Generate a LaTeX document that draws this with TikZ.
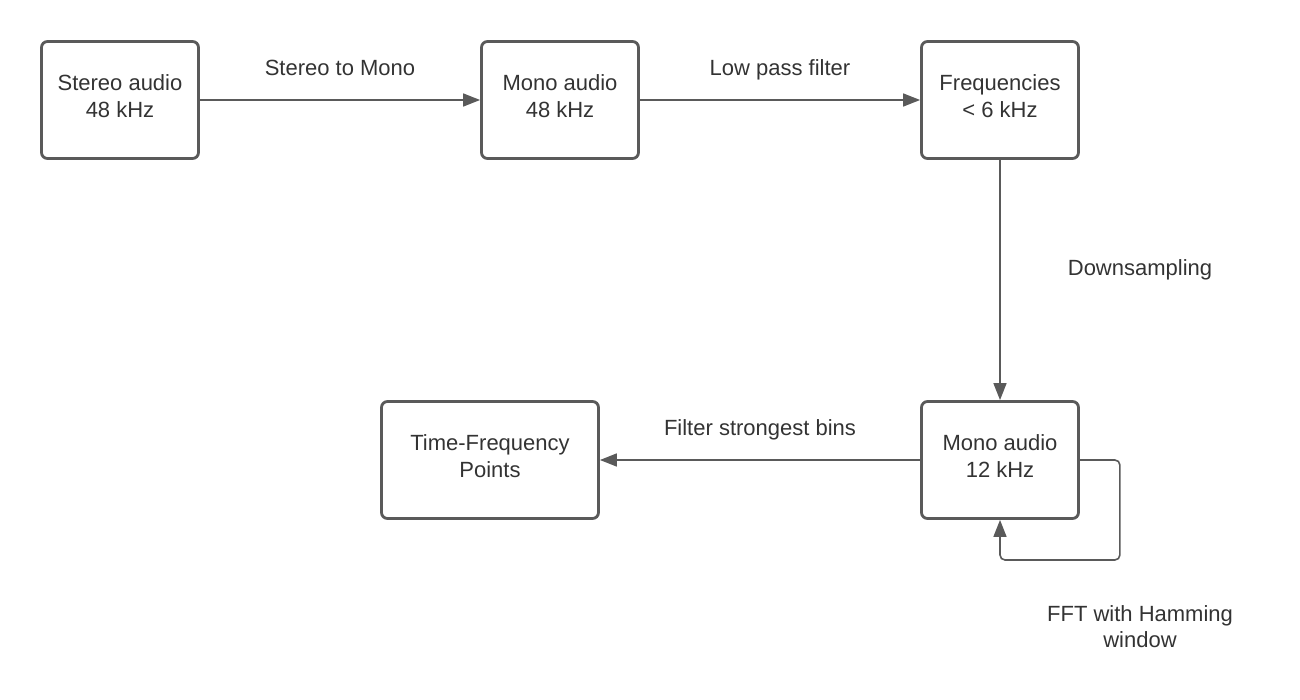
\documentclass[tikz,border=0pt]{standalone}
\usepackage{fontspec}
\setmainfont{Liberation Sans}
\usetikzlibrary{positioning, calc, arrows.meta}
\definecolor{boxline}{HTML}{5A5A5A}
\definecolor{boxtext}{HTML}{333333}
\tikzset{
	stagebox/.style={draw=boxline, line width=2.8pt, rounded corners=6pt, minimum width=157pt, minimum height=117pt, align=center, text=boxtext, text depth=8pt, font=\fontsize{22}{27}\selectfont},
	flow/.style={draw=boxline, line width=1.6pt, -{Triangle[length=17pt,width=13pt]}},
	flowlbl/.style={text=boxtext, font=\fontsize{22}{27}\selectfont, align=center, inner sep=0pt, text height=16pt, text depth=4pt}
}
\begin{document}
\begin{tikzpicture}[x=1pt, y=-1pt]
			\useasboundingbox (0,0) rectangle (1300,700);
			\node (stereo) [stagebox] at (120,100) {Stereo audio\\48 kHz};
			\node (mono48) [stagebox] at (560,100) {Mono audio\\48 kHz};
			\node (freqs) [stagebox] at (1000,100) {Frequencies\\< 6 kHz};
			\node (mono12) [stagebox] at (1000,460) {Mono audio\\12 kHz};
			\node (points) [stagebox, minimum width=217pt] at (490,460) {Time-Frequency\\Points};
			\draw [flow] (stereo) -- (mono48) node[midway, flowlbl, yshift=30pt] {Stereo to Mono};
			\draw [flow] (mono48) -- (freqs) node[midway, flowlbl, yshift=30pt] {Low pass filter};
			\draw [flow] (freqs) -- (mono12) node[midway, flowlbl, xshift=140pt, yshift=10pt] {Downsampling};
			\draw [flow] (mono12) -- (points) node[midway, flowlbl, yshift=31pt] {Filter strongest bins};
			
			\draw [flow, rounded corners=5pt] (mono12.east) -- ++(40,0) -- ++(0,100) -| (mono12.south);
			\node (fftlbl) [flowlbl, text height=16pt, text depth=0pt, font=\fontsize{22}{26}\selectfont] at (1140,639) {FFT with Hamming\\window};
		\end{tikzpicture}
\end{document}
